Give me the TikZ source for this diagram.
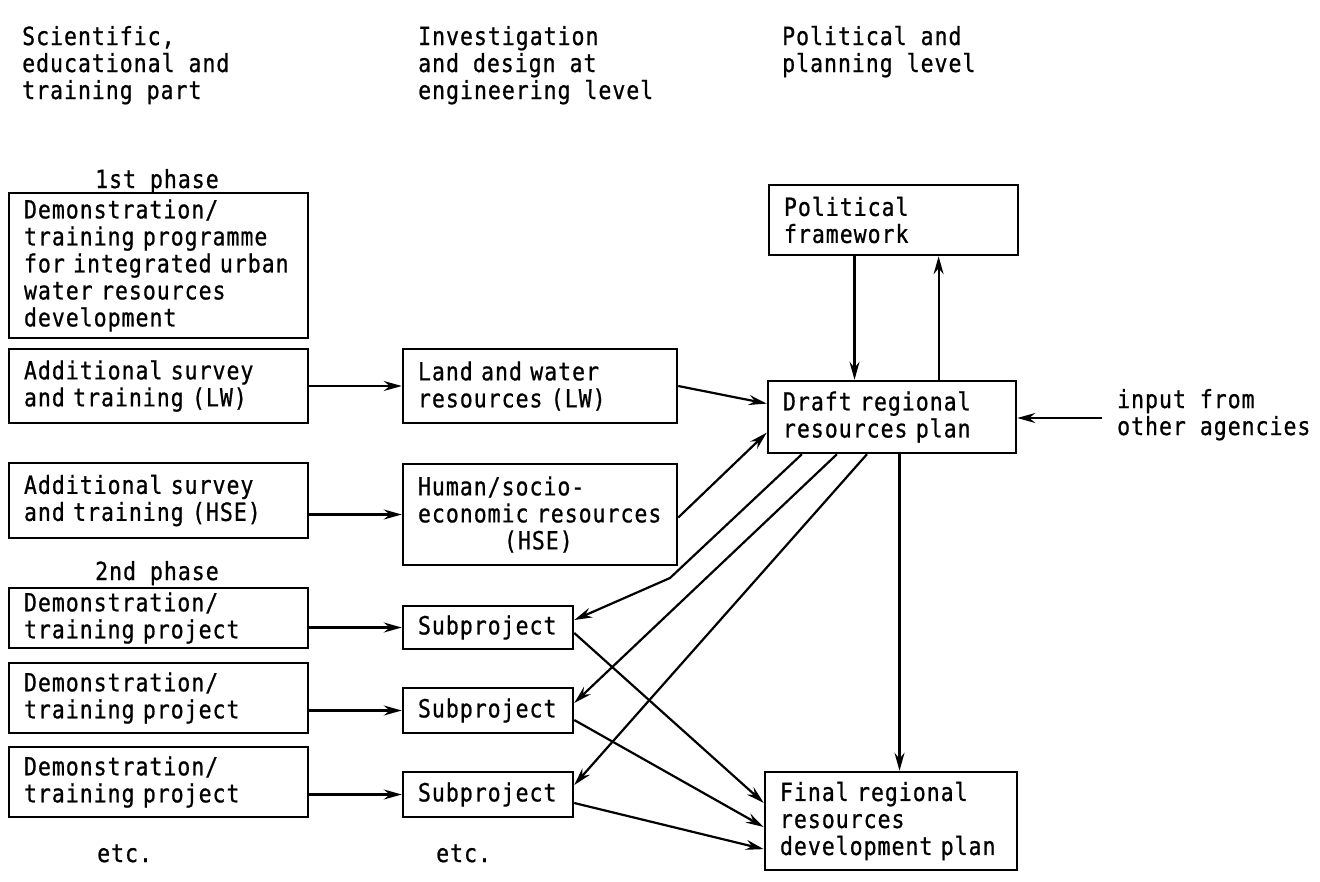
\documentclass[tikz,border=0pt]{standalone}
\usepackage{fontspec}
\setmainfont[FakeStretch=0.86, LetterSpace=4, FakeBold=0.8]{DejaVu Sans Mono}
\usetikzlibrary{arrows.meta,calc}
% typewriter-style lettering with fixed-pitch word spaces
\newcommand{\typerfont}{\fontsize{25}{27}\selectfont
  \fontdimen3\font=0pt \fontdimen4\font=0pt\relax}
\begin{document}
\begin{tikzpicture}[x=1pt,y=-1pt,
  every node/.style={font=\typerfont},
  box/.style={draw, line width=2.5pt, align=left, inner xsep=15pt, inner ysep=0pt},
  lbl/.style={inner sep=0pt, anchor=base west, align=left},
  link/.style={line width=2.2pt, -{Stealth[length=18pt,width=10pt,inset=6pt]}},
]
\useasboundingbox (0,0) rectangle (1320,881);

% column headings (anchored at the baseline of their last line)
\node[lbl] (h1) at (22,99) {Scientific,\\educational and\\training part};
\node[lbl] (h2) at (418,99) {Investigation\\and design at\\engineering level};
\node[lbl] (h3) at (782,72) {Political and\\planning level};

% left column: scientific, educational and training part
\node[lbl] (p1) at (95,188) {1st phase};
\node[box, text width=269pt, minimum height=145pt] (b1) at (158.5,265.5)
  {Demonstration/\\training programme\\\mbox{for integrated urban}\\water resources\\development};
\node[box, text width=269pt, minimum height=74pt] (b2) at (158.5,386)
  {Additional survey\\and training (LW)};
\node[box, text width=269pt, minimum height=75pt] (b3) at (158.5,500.5)
  {Additional survey\\and training (HSE)};
\node[lbl] (p2) at (95,580) {2nd phase};
\node[box, text width=269pt, minimum height=60pt] (b4) at (158.5,618)
  {Demonstration/\\training project};
\node[box, text width=269pt, minimum height=70pt] (b5) at (158.5,698)
  {Demonstration/\\training project};
\node[box, text width=269pt, minimum height=70pt] (b6) at (158.5,782)
  {Demonstration/\\training project};
\node[lbl] (e1) at (97,862) {etc.};

% middle column: investigation and design
\node[box, text width=244pt, minimum height=74pt] (land) at (540,386)
  {Land and water\\resources (LW)};
\node[box, text width=244pt, minimum height=101pt] (human) at (540,514.5)
  {Human/socio-\\\mbox{economic resources}\\\hspace*{86pt}(HSE)};
\node[box, text width=140pt, minimum height=43pt] (sub1) at (488,627.5) {Subproject};
\node[box, text width=140pt, minimum height=45pt] (sub2) at (488,710.5) {Subproject};
\node[box, text width=140pt, minimum height=45pt] (sub3) at (488,794.5) {Subproject};
\node[lbl] (e2) at (436,862) {etc.};

% right column: political and planning level
\node[box, text width=219pt, minimum height=70pt] (pol) at (893.5,220)
  {Political\\framework};
\node[box, text width=218pt, minimum height=72pt] (draft) at (892,417)
  {Draft regional\\resources plan};
\node[box, text width=222pt, minimum height=98pt] (final) at (891,821)
  {Final regional\\resources\\\mbox{development plan}};
\node[lbl] (input) at (1117,435) {input from\\other agencies};
\coordinate (inputtail) at (1102,418);
\coordinate (bend) at (670,578);

% training -> investigation
\draw[link] (b2.east) -- (land.west);
\draw[link] (b3.east |- human.west) -- (human.west);
\draw[link] (b4.east |- sub1.west) -- (sub1.west);
\draw[link] (b5.east |- sub2.west) -- (sub2.west);
\draw[link] (b6.east |- sub3.west) -- (sub3.west);

% investigation -> draft plan
\draw[link] (land.east) -- ($(draft.north west)!0.32!(draft.south west)$);
\draw[link] ([yshift=-3pt]human.east) -- ($(draft.north west)!0.71!(draft.south west)$);

% political framework <-> draft plan
\draw[link] ($(pol.south west)!0.345!(pol.south east)$) coordinate (pd) -- (pd |- draft.north);
\draw[link] ($(draft.north west)!0.686!(draft.north east)$) coordinate (dp) -- (dp |- pol.south);

% outside input
\draw[link] (inputtail) -- (inputtail -| draft.east);

% draft plan -> subprojects
\draw[link] ($(draft.south west)!0.14!(draft.south east)$) -- (bend) -- ([yshift=7.5pt]sub1.east);
\draw[link] ($(draft.south west)!0.28!(draft.south east)$) -- ([yshift=7.5pt]sub2.east);
\draw[link] ($(draft.south west)!0.40!(draft.south east)$) -- ([yshift=9.5pt]sub3.east);

% subprojects and draft -> final plan
\draw[link] ([yshift=-5.5pt]sub1.east) -- ($(final.north west)!0.32!(final.south west)$);
\draw[link] ([yshift=-9.5pt]sub2.east) -- ($(final.north west)!0.56!(final.south west)$);
\draw[link] ([yshift=-8.5pt]sub3.east) -- ($(final.north west)!0.78!(final.south west)$);
\draw[link] ($(draft.south west)!0.53!(draft.south east)$) coordinate (df) -- (df |- final.north);
\end{tikzpicture}
\end{document}
